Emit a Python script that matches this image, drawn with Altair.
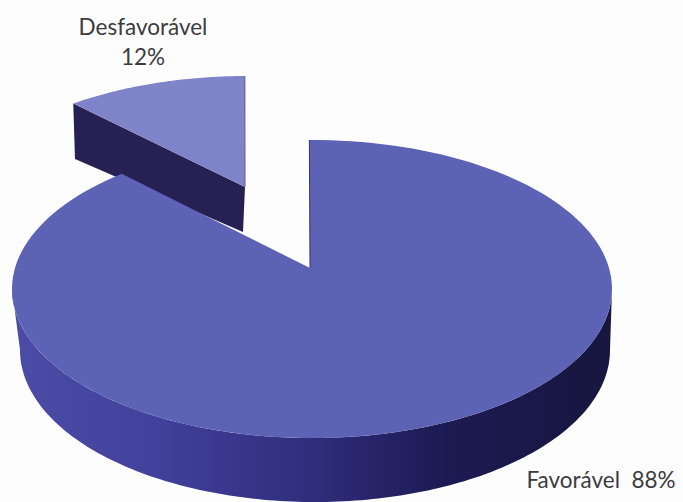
import math
import altair as alt

# Survey result
names = ["Favorável", "Desfavorável"]
shares = [88, 12]

# Perspective view of the disc
RX, RY = 300, 149
TOP_CENTER = (312, 289)
BASE_CENTER = (315, 350)
BASE_RX, BASE_RY = 295, 152
MAIN_APEX = (310, 268)
MAIN_START = -0.5
MAIN_FORESHORTEN = 0.90

# The pulled-out slice
SLICE_CENTER = (247, 225)
SLICE_APEX = (245, 187)
SLICE_START = -0.4
SLICE_FORESHORTEN = 0.81
SLICE_DROP_APEX = (243, 232)
SLICE_DROP_RIM = (75, 159)


def rim(center, rx, ry, deg):
    t = math.radians(deg)
    return [center[0] + rx * math.sin(t), center[1] - ry * math.cos(t)]


def arc(center, rx, ry, start, end, steps=160):
    return [rim(center, rx, ry, start + (end - start) * i / steps) for i in range(steps + 1)]


def polygon(points):
    ring = [list(p) for p in points]
    ring.append(ring[0])
    return {"type": "Feature", "properties": {}, "geometry": {"type": "Polygon", "coordinates": [ring]}}


def path(points):
    return {"type": "Feature", "properties": {}, "geometry": {"type": "LineString", "coordinates": [list(p) for p in points]}}


small_sweep = shares[1] / sum(shares) * 360
main_sweep = 360 - small_sweep * MAIN_FORESHORTEN
slice_end = SLICE_START - small_sweep * SLICE_FORESHORTEN

main_top = polygon([MAIN_APEX] + arc(TOP_CENTER, RX, RY, MAIN_START, MAIN_START + main_sweep))
main_side = polygon(arc(TOP_CENTER, RX, RY, 90, 270) + arc(BASE_CENTER, BASE_RX, BASE_RY, 270, 90))
slice_arc = arc(SLICE_CENTER, RX, RY, SLICE_START, slice_end, 60)
slice_top = polygon([SLICE_APEX] + slice_arc)
slice_side = polygon([SLICE_APEX, slice_arc[-1], SLICE_DROP_RIM, SLICE_DROP_APEX])
main_edge = path([MAIN_APEX, rim(TOP_CENTER, RX, RY, MAIN_START)])
slice_edge = path([SLICE_APEX, slice_arc[0]])

projection = alt.Projection(type="identity", scale=1, translate=[0, 0])


def shape(feature, **mark):
    return alt.Chart(alt.Data(values=[feature])).mark_geoshape(**mark).project(**projection.to_dict())


side_fill = alt.LinearGradient(
    gradient="linear", x1=0, x2=1, y1=0, y2=0,
    stops=[
        alt.GradientStop(offset=0.0, color="#4c4ca6"),
        alt.GradientStop(offset=0.25, color="#41409a"),
        alt.GradientStop(offset=0.5, color="#302d7c"),
        alt.GradientStop(offset=0.72, color="#1c1a52"),
        alt.GradientStop(offset=1.0, color="#17163f"),
    ],
)

layers = [
    shape(slice_side, fill="#262152", strokeWidth=0),
    shape(slice_top, fill="#7f84c8", strokeWidth=0),
    shape(slice_edge, filled=False, stroke="#5a5c9c", strokeWidth=1),
    shape(main_side, fill=side_fill, strokeWidth=0),
    shape(main_top, fill="#5c62b4", strokeWidth=0),
    shape(main_edge, filled=False, stroke="#34346e", strokeWidth=1),
]


def label(text, x, y):
    return alt.Chart(alt.Data(values=[{"label": text}])).mark_text(
        font="Lato", fontSize=22.5, color="#3b3b40", align="center", baseline="middle"
    ).encode(text="label:N", x=alt.value(x), y=alt.value(y))


layers += [
    label(names[1], 143, 28),
    label(f"{shares[1]}%", 143, 58),
    label(f"{names[0]}\u00a0\u00a0{shares[0]}%", 601, 481),
]

chart = alt.layer(*layers).properties(
    width=683, height=502, padding=0, autosize=alt.AutoSizeParams(type="none"),
    background="#fdfdfe",
).configure_view(stroke=None)

chart.save("out.html", embed_options={"renderer": "svg", "actions": False})
